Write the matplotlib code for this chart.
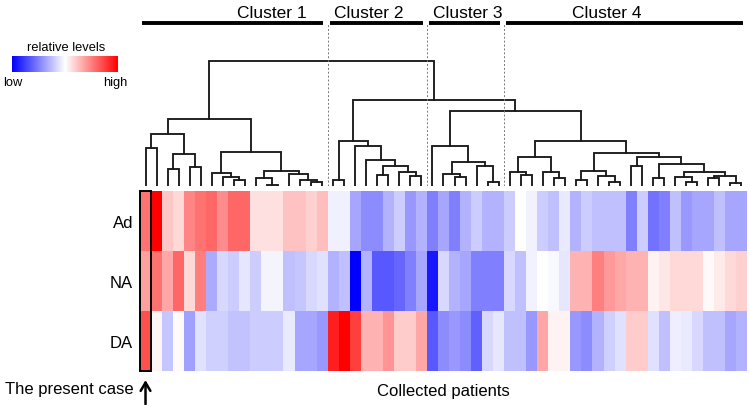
"""Clustering heatmap: present case vs. collected patients (Ad / NA / DA)"""
import numpy as np
import matplotlib
matplotlib.use("Agg")
import matplotlib.pyplot as plt
from matplotlib.patches import Rectangle
from matplotlib.cm import ScalarMappable
from matplotlib.colors import Normalize

plt.rcParams["font.family"] = ["Liberation Sans", "DejaVu Sans"]

# ── data: relative levels, column 0 = the present case ──
ROWS = ["Ad", "NA", "DA"]
ad = [0.55, 1.0, 0.22, 0.15, 0.48, 0.55, 0.6, 0.45, 0.6, 0.6, 0.12, 0.12, 0.12, 0.24, 0.24, 0.18, 0.25,
      -0.06, -0.06, -0.35, -0.45, -0.45, -0.3, -0.2, -0.4, -0.3,
      -0.5, -0.35, -0.5, -0.3, -0.2, -0.3, -0.3,
      -0.2, 0.0, -0.05, -0.2, -0.25, -0.08, -0.3, -0.2, -0.25, -0.25, -0.25, -0.5, -0.2,
      -0.55, -0.5, -0.25, -0.4, -0.35, -0.35, -0.25, -0.35, -0.35]
na = [0.37, 0.55, 0.35, 0.6, 0.15, 0.5, -0.33, -0.15, -0.2, -0.1, -0.2, -0.04, -0.04, -0.25, -0.22, -0.15, -0.12,
      -0.3, -0.25, -1.0, -0.3, -0.65, -0.65, -0.6, -0.5, -0.35,
      -0.9, -0.15, -0.3, -0.35, -0.5, -0.5, -0.5,
      -0.15, -0.25, -0.05, 0.0, -0.03, -0.1, 0.3, 0.3, 0.5, 0.4, 0.35, 0.3, 0.3,
      0.05, 0.1, 0.15, 0.15, 0.15, 0.02, 0.08, 0.15, 0.18]
da = [0.68, 0.04, -0.22, 0.02, -0.37, -0.12, -0.18, -0.18, -0.24, -0.24, -0.2, -0.2, -0.2, -0.08, -0.35, -0.35, -0.4,
      0.88, 1.0, 0.75, 0.3, 0.3, 0.42, 0.2, 0.2, 0.35,
      -0.65, -0.45, -0.4, -0.45, -0.62, -0.15, -0.1,
      -0.25, -0.25, -0.4, 0.35, 0.05, 0.05, -0.4, -0.45, -0.3, -0.18, -0.12, 0.2, 0.2,
      -0.12, -0.25, -0.07, -0.08, -0.15, -0.25, -0.25, -0.35, -0.3]

# dendrogram: (height, left, right), leaves are column indices
c1 = (67,
      (52, (38, 0, 1), (32, (17, 2, 3), (19, 4, 5))),
      (34, (13, 6, (9, 7, (6, 8, 9))),
       (15, (8, 10, (1, 11, 12)), (12, 13, (6, 14, (4, 15, 16))))))
c2 = (45, (6, 17, 18), (40, 19, (26, 20, (20, (11, 21, 22), (14, 23, (10, 24, 25))))))
c3 = (40, 26, (24, (12, 27, (9, 28, 29)), (20, 30, (4, 31, 32))))
c4 = (45,
      (29, (14, 33, (11, 34, 35)), (14, 36, (8, 37, 38))),
      (33, (15, (6, 39, 40), (10, 41, (4, 42, 43))),
       (29, (20, 44, 45),
        (22, (8, 46, 47), (14, (9, 48, (4, 49, 50)), (10, (8, 51, 52), (3, 53, 54)))))))
TREE = (125, c1, (86, c2, (75, c3, c4)))

CLUSTERS = ["Cluster 1", "Cluster 2", "Cluster 3", "Cluster 4"]
CLUSTER_EDGES = [0, 17, 26, 33, 55]
CLUSTER_TEXT_X = [11.9, 20.7, 29.7, 42.3]

W, H = 750, 406
fig = plt.figure(figsize=(W / 100, H / 100), dpi=100)


def frac(x0, y0, x1, y1):
    """pixel box -> figure fraction rect"""
    return [x0 / W, 1 - y1 / H, (x1 - x0) / W, (y1 - y0) / H]


# ── heatmap ──
data = np.array([ad, na, da])
n_col = data.shape[1]
ax = fig.add_axes(frac(140, 192, 747, 372))
ax.pcolormesh(np.arange(n_col + 1), np.arange(len(ROWS) + 1), data,
              cmap="bwr", vmin=-1, vmax=1)
ax.set_xlim(0, n_col)
ax.set_ylim(len(ROWS), 0)
ax.set_xticks([])
ax.set_yticks(np.arange(len(ROWS)) + 0.5)
ax.set_yticklabels(ROWS, fontsize=12)
ax.tick_params(axis="y", length=0, pad=5)
for s in ax.spines.values():
    s.set_visible(False)
ax.add_patch(Rectangle((0, 0), 1, len(ROWS), fill=False, edgecolor="black",
                       linewidth=1.4, clip_on=False))
ax.annotate("", xy=(0.5, -0.035), xytext=(0.5, -0.2),
            xycoords=("data", "axes fraction"),
            arrowprops=dict(arrowstyle="->,head_width=0.35,head_length=0.6",
                            lw=1.8, color="black"))

# ── dendrogram ──
axd = fig.add_axes(frac(140, 5, 747, 187))
axd.set_xlim(0, n_col)
axd.set_ylim(0, 182)
axd.axis("off")


def draw(node):
    """returns (x, height) of node, draws its links"""
    if isinstance(node, int):
        return node + 0.5, 0
    h, left, right = node
    xl, hl = draw(left)
    xr, hr = draw(right)
    axd.plot([xl, xl, xr, xr], [hl, h, h, hr], color="#1a1a1a", lw=1.35,
             solid_joinstyle="miter")
    return (xl + xr) / 2, h


draw(TREE)

for i, name in enumerate(CLUSTERS):
    a, b = CLUSTER_EDGES[i], CLUSTER_EDGES[i + 1]
    axd.plot([a + 0.2, b - 0.4], [163, 163], color="black", lw=2.8,
             solid_capstyle="butt")
    axd.text(CLUSTER_TEXT_X[i], 174, name, ha="center", va="center", fontsize=12.5)
    if i > 0:
        axd.plot([a, a], [0, 162], color="#777777", lw=0.7, ls=(0, (2, 2)))

# ── colour key ──
cax = fig.add_axes(frac(12, 57, 118, 73))
cb = fig.colorbar(ScalarMappable(Normalize(-1, 1), cmap="bwr"), cax=cax,
                  orientation="horizontal")
cb.set_ticks([])
cb.outline.set_visible(False)
fig.text(66 / W, 1 - 48 / H, "relative levels", ha="center", va="center", fontsize=9.3)
fig.text(3 / W, 1 - 83 / H, "low", ha="left", va="center", fontsize=9.3)
fig.text(127 / W, 1 - 83 / H, "high", ha="right", va="center", fontsize=9.3)

fig.text(134 / W, 1 - 390 / H, "The present case", ha="right", va="center", fontsize=12)
fig.text(443 / W, 1 - 392 / H, "Collected patients", ha="center", va="center", fontsize=12)

fig.savefig("out.png", dpi=100)
